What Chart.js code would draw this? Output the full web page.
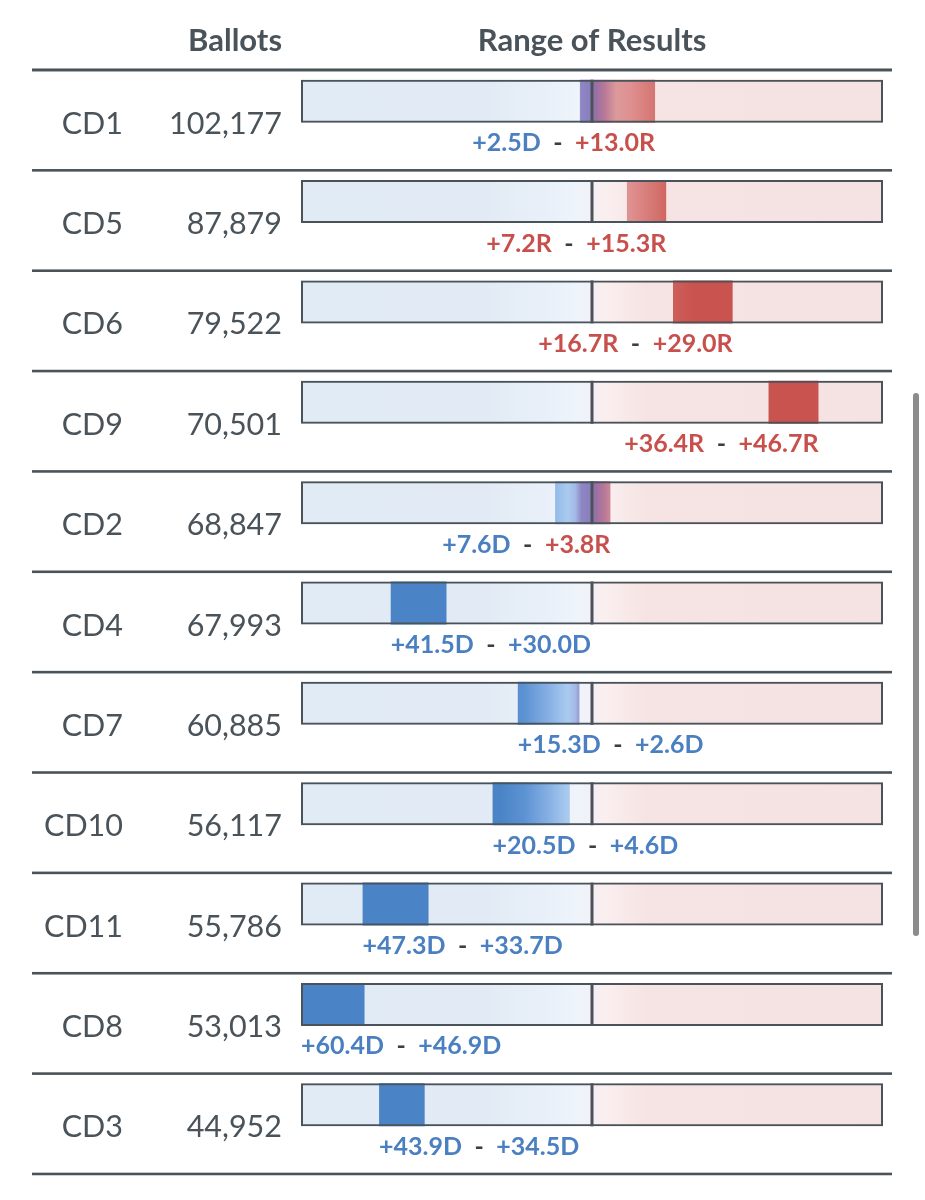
<!DOCTYPE html>
<html>
<head>
<meta charset="utf-8">
<script src="https://cdn.jsdelivr.net/npm/chart.js@4.4.1/dist/chart.umd.min.js"></script>
<style>
  html, body { margin: 0; padding: 0; background: #ffffff; }
  #wrap { position: relative; width: 925px; height: 1200px; overflow: hidden; }
  #scroll { position: absolute; left: 913px; top: 393px; width: 6px; height: 543px; background: #8c8c8c; border-radius: 3px; }
</style>
</head>
<body>
<div id="wrap">
  <canvas id="c" width="925" height="1200"></canvas>
  <div id="scroll"></div>
</div>
<script>
// ---------- data ----------
const districts = ['CD1', 'CD5', 'CD6', 'CD9', 'CD2', 'CD4', 'CD7', 'CD10', 'CD11', 'CD8', 'CD3'];
const ballots   = [102177, 87879, 79522, 70501, 68847, 67993, 60885, 56117, 55786, 53013, 44952];
// margin: negative = Democratic lead, positive = Republican lead
const rangeLow  = [-2.5, 7.2, 16.7, 36.4, -7.6, -41.5, -15.3, -20.5, -47.3, -60.4, -43.9];
const rangeHigh = [13.0, 15.3, 29.0, 46.7, 3.8, -30.0, -2.6, -4.6, -33.7, -46.9, -34.5];
const axisMin = -60;
const axisMax = 60;

// ---------- styles ----------
const INK = '#4a5359';
const BLUE_TEXT = '#4a7fc1';
const RED_TEXT = '#c8504c';
const RANGE_STOPS = [
  [-60, '#4a84c6'], [-19, '#4a84c6'], [-14, '#5c92d2'], [-9, '#86b0e4'], [-5, '#a9cbef'],
  [-3.4, '#a3b8e4'], [-2.2, '#8e86c4'], [0, '#8a7cbc'], [0.6, '#956fa6'], [2.6, '#ba7898'],
  [5, '#dc9a9a'], [8, '#df9090'], [13, '#d47470'], [16.5, '#cd5f5a'], [21, '#c9534f'], [60, '#c9534f']
];
const BG_STOPS = [
  [-60, '#e1ebf5'], [-22, '#e2ebf5'], [-9, '#e9f0f9'], [-3, '#eff4fb'], [-0.4, '#f2f1f7'],
  [0.4, '#f6eef2'], [2.5, '#faefef'], [11, '#f6e4e4'], [60, '#f5e3e3']
];

function scaleGradient(chart, stops) {
  const x = chart.scales.x;
  if (!x || !chart.chartArea) return 'rgba(0,0,0,0)';
  const x0 = x.getPixelForValue(x.min), x1 = x.getPixelForValue(x.max);
  const g = chart.ctx.createLinearGradient(x0, 0, x1, 0);
  stops.forEach(([v, c]) => g.addColorStop((v - x.min) / (x.max - x.min), c));
  return g;
}

function fmtMargin(v) {
  return '+' + Math.abs(v).toFixed(1) + (v < 0 ? 'D' : 'R');
}

const tablePlugin = {
  id: 'table',
  afterDatasetsDraw(chart) {
    const { ctx, scales: { x, y } } = chart;
    const c0 = y.getPixelForValue(0);
    const step = y.getPixelForValue(1) - c0;
    const xc = x.getPixelForValue(0);
    ctx.save();
    ctx.fillStyle = INK;
    // centre (tie) line in every bar
    districts.forEach((d, i) => {
      const cy = y.getPixelForValue(i);
      ctx.fillRect(xc - 1.5, cy - 21.5, 3, 43);
    });
    // rules
    for (let i = 0; i <= districts.length; i++) {
      const ly = c0 + step * (i - 0.311);
      const w = i === 0 ? 3 : 2.6;
      ctx.fillRect(32, ly - w / 2, 860, w);
    }
    // headers
    ctx.textBaseline = 'alphabetic';
    ctx.font = 'bold 31px Lato';
    ctx.textAlign = 'right';
    ctx.fillText('Ballots', 282, c0 - 50);
    ctx.textAlign = 'center';
    ctx.fillText('Range of Results', xc, c0 - 50);
    // rows
    districts.forEach((d, i) => {
      const cy = y.getPixelForValue(i);
      ctx.fillStyle = INK;
      ctx.font = '30.5px Lato';
      ctx.textAlign = 'right';
      ctx.fillText(d, 123, cy + 32.5);
      ctx.fillText(ballots[i].toLocaleString('en-US'), 282, cy + 32.5);

      // range label
      ctx.font = 'bold 25px Lato';
      ctx.textAlign = 'left';
      const lo = rangeLow[i], hi = rangeHigh[i];
      const parts = [
        [fmtMargin(lo), lo < 0 ? BLUE_TEXT : RED_TEXT],
        ['-', '#3a3f44'],
        [fmtMargin(hi), hi < 0 ? BLUE_TEXT : RED_TEXT]
      ];
      const gap = 12.5;
      const widths = parts.map(p => ctx.measureText(p[0]).width);
      const total = widths.reduce((a, b) => a + b, 0) + gap * 2;
      let startX;
      if (hi > 0) {
        startX = x.getPixelForValue(Math.min(hi, axisMax)) - total;
      } else {
        startX = x.getPixelForValue(Math.max(lo, axisMin));
      }
      let px = startX;
      parts.forEach((p, k) => {
        ctx.fillStyle = p[1];
        ctx.fillText(p[0], px, cy + 50);
        px += widths[k] + gap;
      });
    });
    ctx.restore();
  }
};

new Chart(document.getElementById('c'), {
  type: 'bar',
  data: {
    labels: districts,
    datasets: [
      {
        label: 'frame',
        data: districts.map(() => [axisMin, axisMax]),
        backgroundColor: 'rgba(0,0,0,0)',
        borderColor: INK,
        borderWidth: 2,
        borderSkipped: false,
        grouped: false,
        order: 0
      },
      {
        label: 'range',
        data: rangeLow.map((v, i) => [v, rangeHigh[i]]),
        backgroundColor: ctx => scaleGradient(ctx.chart, RANGE_STOPS),
        borderWidth: 0,
        grouped: false,
        order: 1
      },
      {
        label: 'background',
        data: districts.map(() => [axisMin, axisMax]),
        backgroundColor: ctx => scaleGradient(ctx.chart, BG_STOPS),
        borderWidth: 0,
        grouped: false,
        order: 2
      }
    ]
  },
  options: {
    indexAxis: 'y',
    responsive: false,
    animation: false,
    layout: { padding: { left: 301, right: 42, top: 51, bottom: 45 } },
    datasets: { bar: { barThickness: 43, inflateAmount: 0 } },
    scales: {
      x: { type: 'linear', min: axisMin, max: axisMax, display: false },
      y: { display: false, offset: true }
    },
    plugins: { legend: { display: false }, tooltip: { enabled: false } }
  },
  plugins: [tablePlugin]
});
</script>
</body>
</html>
